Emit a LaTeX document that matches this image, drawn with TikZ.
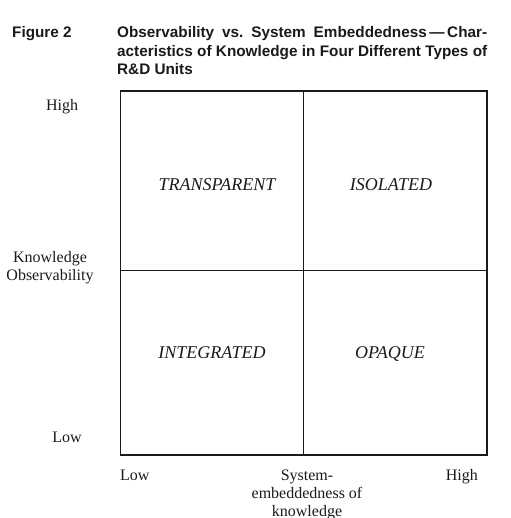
\documentclass[tikz,border=0pt]{standalone}
\usepackage{fontspec}
\setmainfont{Liberation Serif}
\setsansfont{Liberation Sans}
\usetikzlibrary{positioning}
\definecolor{figInk}{HTML}{1A1A1A}
\tikzset{
  every picture/.style={text=figInk},
  fig title/.style={font=\sffamily\bfseries\fontsize{15.3}{18.5}\selectfont\frenchspacing, anchor=base west, inner sep=0pt},
  fig axis/.style={font=\fontsize{16}{18}\selectfont, inner sep=0pt, align=center, anchor=base},
  fig cell/.style={font=\itshape\fontsize{18}{20}\selectfont, inner sep=0pt, anchor=base},
  fig frame/.style={draw=figInk, line width=1.2pt},
  fig split/.style={draw=figInk, line width=0.9pt}
}
\begin{document}
\begin{tikzpicture}[x=1pt,y=-1pt]
  \useasboundingbox (0,0) rectangle (510,518);
  % title
  \node[fig title] (fignum) at (12,38) {Figure 2};
  \node[fig title, text width=370pt, align=justify] (figtitle) at (117,38)
    {Observability vs. System Embeddedness\,---\,Char-\linebreak acteristics of Knowledge in Four Different Types of\linebreak R\&D Units};
  % frame and quadrants
  \coordinate (nw) at (120.5,91);
  \coordinate (se) at (487,455);
  \coordinate (topmid) at (303,91);
  \coordinate (botmid) at (303,455);
  \coordinate (leftmid) at (120.5,270);
  \coordinate (rightmid) at (487,270);
  \draw[fig frame] (nw) rectangle (se);
  \draw[fig split] (topmid) -- (botmid);
  \draw[fig split] (leftmid) -- (rightmid);
  % quadrant labels
  \node[fig cell] (transparent) at (217,191) {TRANSPARENT};
  \node[fig cell] (isolated) at (391,191) {ISOLATED};
  \node[fig cell] (integrated) at (212,358) {INTEGRATED};
  \node[fig cell] (opaque) at (390,358) {OPAQUE};
  % axis labels (multi-line nodes sit on their last line)
  \node[fig axis] (yhigh) at (62,111) {High};
  \node[fig axis] (ylabel) at (50,280) {Knowledge\\Observability};
  \node[fig axis] (ylow) at (67,442) {Low};
  \node[fig axis, anchor=base west] (xlow) at (120,480) {Low};
  \node[fig axis] (xlabel) at (307,516) {System-\\embeddedness of\\knowledge};
  \node[fig axis, anchor=base east] (xhigh) at (478,480) {High};
\end{tikzpicture}
\end{document}
